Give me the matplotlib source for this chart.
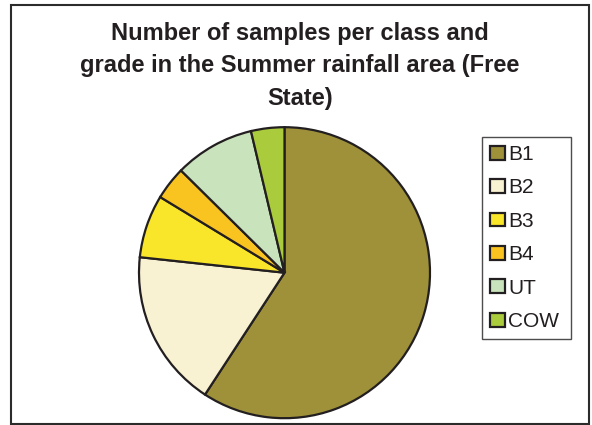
import matplotlib
matplotlib.use("Agg")
import matplotlib.pyplot as plt
from matplotlib.patches import Rectangle

plt.rcParams['font.family'] = ['Liberation Sans', 'DejaVu Sans']

# Share of samples per class/grade (%)
classes = ["B1", "B2", "B3", "B4", "UT", "COW"]
shares = [59.2, 17.5, 7.0, 3.7, 8.9, 3.7]
colors = ["#9E913A", "#F8F2D3", "#F9E52A", "#F9C41F", "#C9E3BD", "#A9CB3C"]
title = "Number of samples per class and\ngrade in the Summer rainfall area (Free\nState)"

W, H = 592, 425
fig = plt.figure(figsize=(W / 100, H / 100), dpi=100)
fig.patch.set_facecolor("white")

# outer chart frame
fig.add_artist(Rectangle((11 / W, 1 - 423.5 / H), (589 - 11) / W, (423.5 - 5) / H,
                         transform=fig.transFigure, fill=False,
                         edgecolor="#2b2b2b", linewidth=1.5))

fig.text(300 / W, 1 - 22 / H, title, ha="center", va="top", fontsize=17,
         fontweight="bold", color="#231F20", linespacing=1.52)

cx, cy, r = 284.5, 272.7, 145.5
ax = fig.add_axes([(cx - r) / W, (H - cy - r) / H, 2 * r / W, 2 * r / H])
wedges, _ = ax.pie(shares, colors=colors, startangle=90, counterclock=False,
                   wedgeprops=dict(edgecolor="#231F20", linewidth=1.6))
ax.set_aspect("equal")
ax.set_xlim(-1, 1)
ax.set_ylim(-1, 1)
ax.axis("off")

lx0, lx1, ly0 = 481.7, 571.0, 136.7
leg = fig.legend(wedges, classes, loc="upper left", mode="expand",
                 bbox_to_anchor=(lx0 / W, 1 - ly0 / H, (lx1 - lx0) / W, 0),
                 borderaxespad=0, fontsize=15, frameon=True, fancybox=False,
                 handlelength=0.72, handleheight=0.65, handletextpad=0.15,
                 labelspacing=0.69, borderpad=0.4)
leg.get_frame().set_edgecolor("#231F20")
leg.get_frame().set_linewidth(1.0)
for t in leg.get_texts():
    t.set_color("#231F20")
for h in leg.legend_handles:
    h.set_linewidth(1.6)

fig.savefig("out.png", dpi=100, facecolor="white")
